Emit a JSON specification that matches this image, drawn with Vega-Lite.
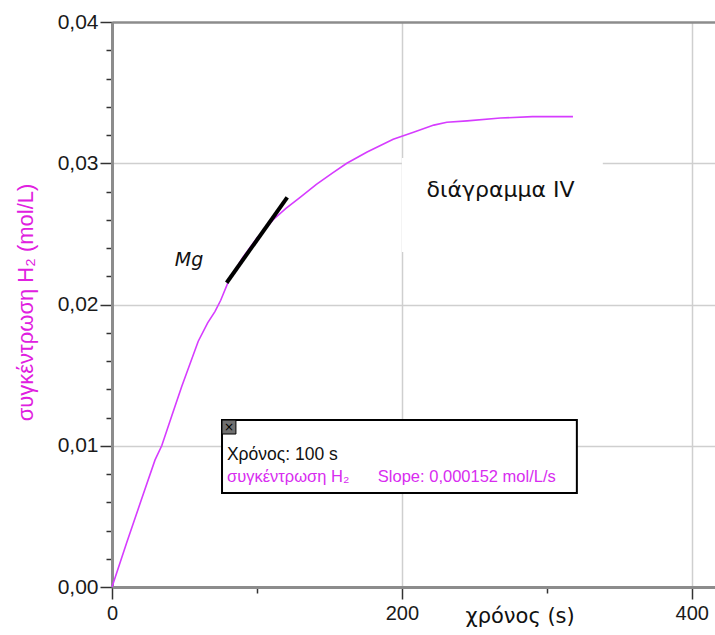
{
  "$schema": "https://vega.github.io/schema/vega-lite/v6.json",
  "width": 603,
  "height": 565,
  "autosize": {"type": "none"},
  "padding": {"left": 112, "top": 22, "right": 0, "bottom": 48},
  "background": "white",
  "config": {"view": {"stroke": null}},
  "datasets": {
    "curve": [
      {"t": 0, "c": 0},
      {"t": 10, "c": 0.0031},
      {"t": 20, "c": 0.0061},
      {"t": 29.7, "c": 0.0090},
      {"t": 34.3, "c": 0.0100},
      {"t": 41.2, "c": 0.0121},
      {"t": 48.1, "c": 0.0142},
      {"t": 59.5, "c": 0.0174},
      {"t": 66, "c": 0.0187},
      {"t": 71, "c": 0.0195},
      {"t": 75, "c": 0.0203},
      {"t": 80.2, "c": 0.0216},
      {"t": 90, "c": 0.0233},
      {"t": 100, "c": 0.0247},
      {"t": 111.2, "c": 0.0260},
      {"t": 120, "c": 0.0268},
      {"t": 130, "c": 0.0276},
      {"t": 141, "c": 0.0285},
      {"t": 152, "c": 0.0293},
      {"t": 162, "c": 0.0300},
      {"t": 176, "c": 0.0308},
      {"t": 194, "c": 0.0317},
      {"t": 208, "c": 0.0322},
      {"t": 222, "c": 0.0327},
      {"t": 231, "c": 0.0329},
      {"t": 245, "c": 0.0330},
      {"t": 268, "c": 0.0332},
      {"t": 290, "c": 0.0333},
      {"t": 318, "c": 0.0333}
    ],
    "tangent": [{"t": 79.1, "c": 0.02154, "t2": 120.9, "c2": 0.02759}],
    "labelbg": [{"t": 200, "c": 0.02372, "t2": 338.6, "c2": 0.03037}],
    "box": [{"t": 75.9, "c": 0.00665, "t2": 320.7, "c2": 0.01182}],
    "closebtn": [{"t": 75.9, "c": 0.01083, "t2": 85.5, "c2": 0.01182}],
    "closetext": [{"t": 80.7, "c": 0.01132, "label": "×"}],
    "blacktext": [{"t": 79.3, "c": 0.00899, "label": "Χρόνος: 100 s"}],
    "magtext": [
      {"t": 79.3, "c": 0.00743, "label": "συγκέντρωση H₂"},
      {"t": 183.4, "c": 0.00743, "label": "Slope: 0,000152 mol/L/s"}
    ],
    "mg": [{"t": 53.1, "c": 0.02315, "label": "Mg"}],
    "diag": [{"t": 268, "c": 0.0281, "label": "διάγραμμα IV"}]
  },
  "layer": [
    {
      "data": {"name": "curve"},
      "mark": {"type": "line", "color": "#d63cff", "strokeWidth": 1.6},
      "encoding": {
        "x": {
          "field": "t", "type": "quantitative",
          "scale": {"domain": [0, 416], "nice": false, "zero": false},
          "axis": {
            "values": [0, 100, 200, 300, 400],
            "tickCount": 30,
            "labelExpr": "datum.value % 200 === 0 ? format(datum.value, 'd') : ''",
            "grid": true,
            "gridColor": "#cfcfcf",
            "gridWidth": 1.5,
            "gridOpacity": {"condition": {"test": "datum.value % 200 === 0 && datum.value > 0", "value": 1}, "value": 0},
            "tickSize": {"condition": {"test": "datum.value % 200 === 0", "value": 12}, "value": 6},
            "tickColor": "#333333",
            "tickWidth": 1.5,
            "domainColor": "#8c8c8c",
            "domainWidth": 3,
            "labelFont": "Liberation Sans",
            "labelFontSize": 20,
            "labelColor": "#1a1a1a",
            "labelPadding": 4,
            "labelFlush": false,
            "labelOverlap": false,
            "title": "χρόνος (s)",
            "titleFont": "DejaVu Sans",
            "titleFontSize": 21,
            "titleFontWeight": "normal",
            "titleColor": "#111111",
            "titleX": 353,
            "titleY": 35,
            "titleAlign": "left",
            "titleBaseline": "alphabetic"
          }
        },
        "y": {
          "field": "c", "type": "quantitative",
          "scale": {"domain": [0, 0.04], "nice": false, "zero": false},
          "axis": {
            "values": [0, 0.002, 0.004, 0.006, 0.008, 0.01, 0.012, 0.014, 0.016, 0.018, 0.02, 0.022, 0.024, 0.026, 0.028, 0.03, 0.032, 0.034, 0.036, 0.038, 0.04],
            "tickCount": 50,
            "labelExpr": "abs(datum.value * 100 - round(datum.value * 100)) < 0.000001 ? replace(format(datum.value, '.2f'), '.', ',') : ''",
            "grid": true,
            "gridColor": {"condition": {"test": "datum.value > 0.0399", "value": "#8c8c8c"}, "value": "#cfcfcf"},
            "gridWidth": {"condition": {"test": "datum.value > 0.0399", "value": 2.5}, "value": 1.5},
            "gridOpacity": {"condition": {"test": "abs(datum.value * 100 - round(datum.value * 100)) < 0.000001 && datum.value > 0", "value": 1}, "value": 0},
            "tickSize": {"condition": {"test": "abs(datum.value * 100 - round(datum.value * 100)) < 0.000001", "value": 12}, "value": 6},
            "tickColor": "#333333",
            "tickWidth": 1.5,
            "domainColor": "#8c8c8c",
            "domainWidth": 3,
            "labelFont": "Liberation Sans",
            "labelFontSize": 21,
            "labelColor": "#1a1a1a",
            "labelPadding": 2,
            "labelFlush": false,
            "labelOverlap": false,
            "title": "συγκέντρωση H₂ (mol/L)",
            "titleFont": "Liberation Sans",
            "titleFontSize": 22,
            "titleFontWeight": "normal",
            "titleColor": "#e020e0",
            "titleAngle": -90,
            "titleX": -87,
            "titleY": 280,
            "titleAlign": "center",
            "titleBaseline": "middle"
          }
        }
      }
    },
    {
      "data": {"name": "labelbg"},
      "mark": {"type": "rect", "fill": "white", "stroke": null},
      "encoding": {
        "x": {"field": "t", "type": "quantitative"},
        "x2": {"field": "t2"},
        "y": {"field": "c", "type": "quantitative"},
        "y2": {"field": "c2"}
      }
    },
    {
      "data": {"name": "tangent"},
      "mark": {"type": "rule", "color": "black", "strokeWidth": 4},
      "encoding": {
        "x": {"field": "t", "type": "quantitative"},
        "x2": {"field": "t2"},
        "y": {"field": "c", "type": "quantitative"},
        "y2": {"field": "c2"}
      }
    },
    {
      "data": {"name": "box"},
      "mark": {"type": "rect", "fill": "white", "stroke": "black", "strokeWidth": 2},
      "encoding": {
        "x": {"field": "t", "type": "quantitative"},
        "x2": {"field": "t2"},
        "y": {"field": "c", "type": "quantitative"},
        "y2": {"field": "c2"}
      }
    },
    {
      "data": {"name": "closebtn"},
      "mark": {"type": "rect", "fill": "#707070", "stroke": "black", "strokeWidth": 1},
      "encoding": {
        "x": {"field": "t", "type": "quantitative"},
        "x2": {"field": "t2"},
        "y": {"field": "c", "type": "quantitative"},
        "y2": {"field": "c2"}
      }
    },
    {
      "data": {"name": "closetext"},
      "mark": {"type": "text", "font": "DejaVu Sans", "fontSize": 12, "color": "black", "align": "center", "baseline": "middle"},
      "encoding": {
        "x": {"field": "t", "type": "quantitative"},
        "y": {"field": "c", "type": "quantitative"},
        "text": {"field": "label"}
      }
    },
    {
      "data": {"name": "blacktext"},
      "mark": {"type": "text", "font": "Liberation Sans", "fontSize": 17.5, "color": "#111111", "align": "left", "baseline": "alphabetic"},
      "encoding": {
        "x": {"field": "t", "type": "quantitative"},
        "y": {"field": "c", "type": "quantitative"},
        "text": {"field": "label"}
      }
    },
    {
      "data": {"name": "magtext"},
      "mark": {"type": "text", "font": "Liberation Sans", "fontSize": 16.5, "color": "#d82cf0", "align": "left", "baseline": "alphabetic"},
      "encoding": {
        "x": {"field": "t", "type": "quantitative"},
        "y": {"field": "c", "type": "quantitative"},
        "text": {"field": "label"}
      }
    },
    {
      "data": {"name": "mg"},
      "mark": {"type": "text", "font": "DejaVu Sans", "fontSize": 19, "fontStyle": "italic", "color": "#111111", "align": "center", "baseline": "middle"},
      "encoding": {
        "x": {"field": "t", "type": "quantitative"},
        "y": {"field": "c", "type": "quantitative"},
        "text": {"field": "label"}
      }
    },
    {
      "data": {"name": "diag"},
      "mark": {"type": "text", "font": "DejaVu Sans", "fontSize": 22, "color": "#111111", "align": "center", "baseline": "middle"},
      "encoding": {
        "x": {"field": "t", "type": "quantitative"},
        "y": {"field": "c", "type": "quantitative"},
        "text": {"field": "label"}
      }
    }
  ]
}
